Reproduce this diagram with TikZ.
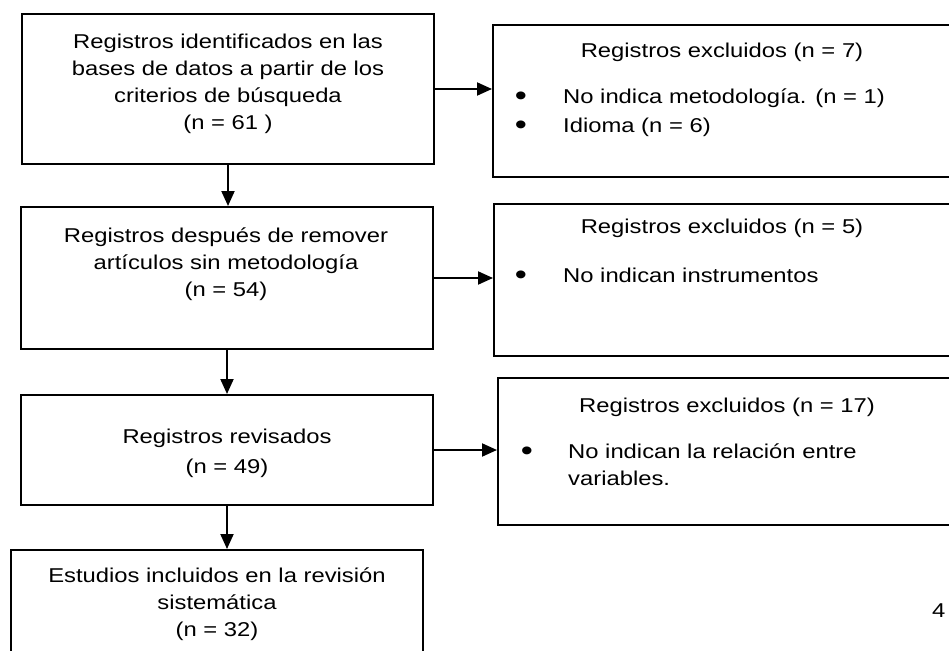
\documentclass[tikz,border=0pt]{standalone}
\usepackage{fontspec}
\setmainfont{Liberation Sans}[FakeStretch=1.19]
\usetikzlibrary{arrows.meta}
\begin{document}
\begin{tikzpicture}[x=1pt,y=-1pt,
  box/.style={draw, line width=2pt, inner sep=0pt},
  txt/.style={font=\fontsize{20}{27}\selectfont, inner sep=0pt, align=center, anchor=north},
  ltxt/.style={font=\fontsize{20}{27}\selectfont, inner sep=0pt, align=left, anchor=north west},
  ttl/.style={font=\fontsize{20}{27}\selectfont, inner sep=0pt, anchor=base},
  bul/.style={font=\fontsize{29}{29}\selectfont, inner sep=0pt, anchor=base},
  arr/.style={line width=2pt, -{Triangle[length=15pt,width=13pt]}}]
\useasboundingbox (0,0) rectangle (949,650);
\clip (0,0) rectangle (949,650);
% left column
\node[box, minimum width=412pt, minimum height=150pt] (b1) at (228,89) {};
\node[box, minimum width=412pt, minimum height=142pt] (b2) at (227,278) {};
\node[box, minimum width=412pt, minimum height=110pt] (b3) at (227,450) {};
\node[box, minimum width=412pt, minimum height=120pt] (b4) at (217,610) {};
% right column
\node[box, minimum width=467pt, minimum height=152pt] (r1) at (726.5,101) {};
\node[box, minimum width=466pt, minimum height=152pt] (r2) at (727,280) {};
\node[box, minimum width=462pt, minimum height=147pt] (r3) at (729,451.5) {};
% texts
\node[txt] (t1) at (228,33.5) {Registros identificados en las\\bases de datos a partir de los\\criterios de búsqueda\\(n = 61 )};
\node[txt] (t2) at (226,227.5) {Registros después de remover\\artículos sin metodología\\(n = 54)};
\node[txt, font=\fontsize{20}{30}\selectfont] (t3) at (227,428.5) {Registros revisados\\(n = 49)};
\node[txt] (t4) at (217,567.5) {Estudios incluidos en la revisión\\sistemática\\(n = 32)};
\node[ttl] (h1) at (722,58) {Registros excluidos (n = 7)};
\node[bul] (u1a) at (521,105.5) {\textbullet};
\node[ttl, anchor=base west] (e1a) at (563,103) {No indica metodología. (n = 1)};
\node[bul] (u1b) at (521,134.5) {\textbullet};
\node[ttl, anchor=base west] (e1b) at (563,132) {Idioma (n = 6)};
\node[ttl] (h2) at (722,233) {Registros excluidos (n = 5)};
\node[bul] (u2) at (521,284.5) {\textbullet};
\node[ttl, anchor=base west] (e2) at (563,282) {No indican instrumentos};
\node[ttl] (h3) at (727,412) {Registros excluidos (n = 17)};
\node[bul] (u3) at (527,460.5) {\textbullet};
\node[ltxt] (e3) at (568,443.5) {No indican la relación entre\\variables.};
\node[ttl, anchor=base west] (pg) at (932,617) {4};
% connectors
\draw[arr] (b1.east) -- (b1.east -| r1.west);
\draw[arr] (b2.east) -- (b2.east -| r2.west);
\draw[arr] (b3.east) -- (b3.east -| r3.west);
\draw[arr] (b1.south) -- (b1.south |- b2.north);
\draw[arr] (b2.south) -- (b2.south |- b3.north);
\draw[arr] (b3.south) -- (b3.south |- b4.north);
\end{tikzpicture}
\end{document}
